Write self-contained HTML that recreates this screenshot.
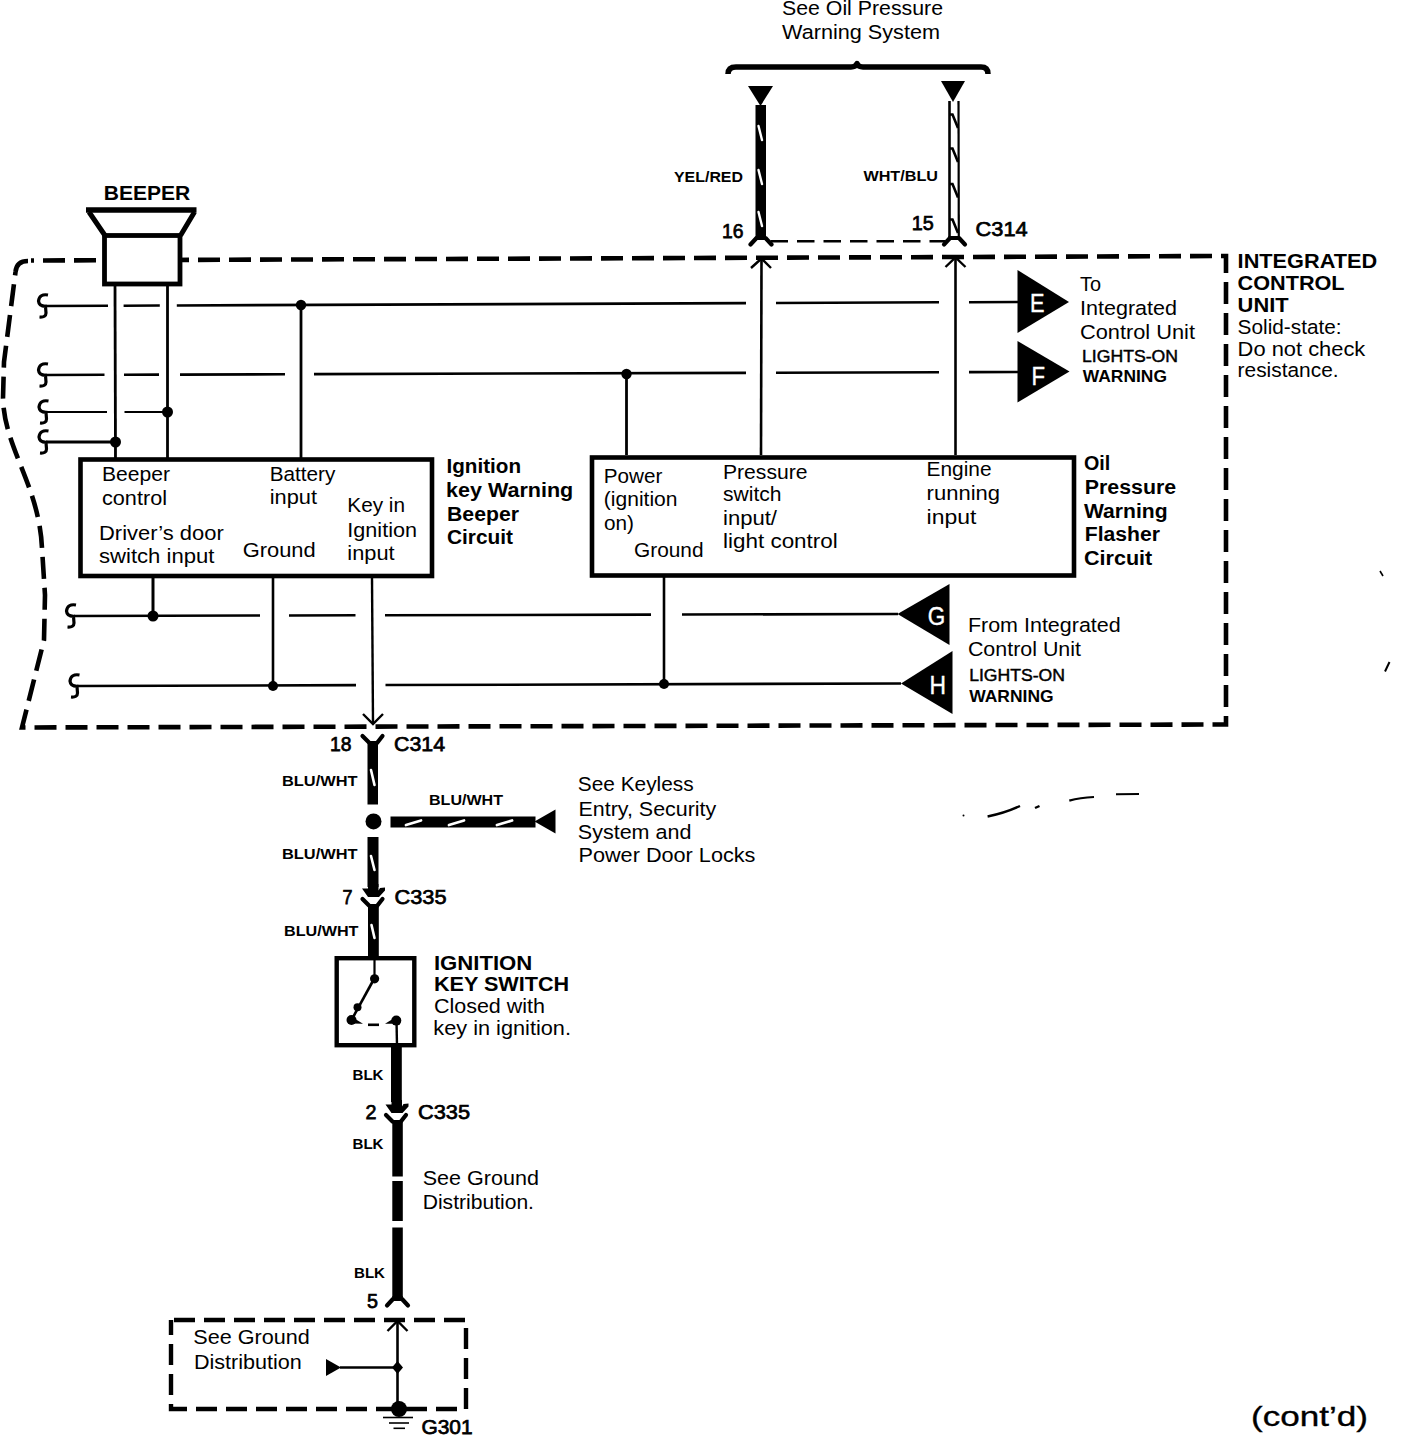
<!DOCTYPE html>
<html><head><meta charset="utf-8"><style>
html,body{margin:0;padding:0;background:#fff;}
svg{display:block;}
text{font-family:"Liberation Sans",sans-serif;fill:#000;}
.r{font-size:20.5px;}
.b{font-size:20px;font-weight:bold;}
.n{font-size:21px;stroke:#000;stroke-width:0.75px;}
.s{font-size:14px;font-weight:bold;}
.b2{font-size:21px;font-weight:bold;}
.s2{font-size:16.5px;stroke:#000;stroke-width:0.45px;}
.s3{font-size:16.5px;font-weight:bold;}
.w{fill:#fff;font-size:26px;stroke:#fff;stroke-width:0.4px;}
.c{font-size:28.5px;stroke:#000;stroke-width:0.35px;}
</style></head><body>
<svg width="1408" height="1436" viewBox="0 0 1408 1436">
<rect width="1408" height="1436" fill="#fff"/>
<g fill="none" stroke="#000" stroke-linecap="butt">
<path d="M728,74 Q728,67 736,67 L851,67 Q855.5,67 857,63.5 Q858.5,67 863,67 L981,67 Q988,67 988,74" stroke-width="5.5" fill="none" stroke-linejoin="round"/>
<path d="M748,86 L773,86 L760.5,106 Z" fill="#000" stroke="none"/>
<path d="M941,81 L965,81 L953,102 Z" fill="#000" stroke="none"/>
<rect x="755.5" y="105" width="10.5" height="134" fill="#000" stroke="none"/>
<line x1="758.5" y1="126" x2="762" y2="140" stroke="#fff" stroke-width="2.4" stroke-linecap="round"/>
<line x1="758.5" y1="170" x2="762" y2="184" stroke="#fff" stroke-width="2.4" stroke-linecap="round"/>
<line x1="758.5" y1="212" x2="762" y2="226" stroke="#fff" stroke-width="2.4" stroke-linecap="round"/>
<line x1="949.5" y1="101" x2="949.5" y2="238" stroke-width="2.6" />
<line x1="958.5" y1="101" x2="958.8" y2="238" stroke-width="2.2" />
<path d="M949.5,114.5 L952.5,114.5 L958,128" stroke-width="2.6" fill="none" />
<path d="M949.5,148.5 L952.5,148.5 L958,162" stroke-width="2.6" fill="none" />
<path d="M949.5,184.0 L952.5,184.0 L958,197.5" stroke-width="2.6" fill="none" />
<path d="M949.5,219.5 L952.5,219.5 L958,233" stroke-width="2.6" fill="none" />
<rect x="755.5" y="236" width="10.5" height="3" fill="#000" stroke="none"/>
<path d="M750.5,244.5 L756.5,238.0 L765.5,238.0 L771.5,244.5" stroke-width="4.2" fill="none" stroke-linejoin="round" stroke-linecap="round"/>
<rect x="948.5" y="236" width="11" height="3" fill="#000" stroke="none"/>
<path d="M944.0,244.5 L950.0,238.0 L959.0,238.0 L965.0,244.5" stroke-width="4.2" fill="none" stroke-linejoin="round" stroke-linecap="round"/>
<line x1="770.5" y1="241.3" x2="945" y2="241.3" stroke-width="2.4" stroke-dasharray="17.5 9"/>
<path d="M28,261 Q16.5,261 15.5,272 L4,362 L3,398 C4,448 39,485 42,548 L45,595 L44,640 L22,727.5 L1226,724.5 L1226,256 L31,260.5" stroke-width="4.6" fill="none" stroke-dasharray="22 9" stroke-dashoffset="0"/>
<rect x="104.5" y="235.5" width="75.5" height="48.5" fill="#fff" stroke-width="4.8"/>
<path d="M86,210 L196.5,210" stroke-width="5.5" fill="none" />
<path d="M89,212 L105,235.5 M194.5,212 L180.5,235.5" stroke-width="5" fill="none" />
<line x1="115" y1="286" x2="115.5" y2="458" stroke-width="2.8" />
<line x1="167.5" y1="286" x2="167.5" y2="458" stroke-width="2.8" />
<path d="M48.0,295 Q39.5,293.5 38.5,301 Q39.0,306.3 45.5,306.3 L46.0,313 Q46.0,317.5 39.5,317" stroke-width="3.2" fill="none" />
<line x1="45" y1="306.0" x2="108" y2="305.74" stroke-width="2.6" />
<line x1="123.6" y1="305.68" x2="159.8" y2="305.53" stroke-width="2.6" />
<line x1="176.8" y1="305.46" x2="746" y2="303.12" stroke-width="2.6" />
<line x1="776" y1="302.99" x2="939" y2="302.32" stroke-width="2.6" />
<line x1="969" y1="302.2" x2="1018" y2="302.0" stroke-width="2.6" />
<circle cx="301" cy="305" r="5.2" fill="#000" stroke="none"/>
<path d="M48.0,364 Q39.5,362.5 38.5,370 Q39.0,375.3 45.5,375.3 L46.0,382 Q46.0,386.5 39.5,386" stroke-width="3.2" fill="none" />
<line x1="45" y1="375.0" x2="104.5" y2="374.82" stroke-width="2.6" />
<line x1="124" y1="374.76" x2="159" y2="374.65" stroke-width="2.6" />
<line x1="180" y1="374.58" x2="285" y2="374.26" stroke-width="2.6" />
<line x1="314" y1="374.17" x2="746" y2="372.84" stroke-width="2.6" />
<line x1="776" y1="372.75" x2="939" y2="372.24" stroke-width="2.6" />
<line x1="969" y1="372.15" x2="1018" y2="372.0" stroke-width="2.6" />
<circle cx="626.5" cy="374" r="5.2" fill="#000" stroke="none"/>
<path d="M48.5,401 Q40,399.5 39,407 Q39.5,412.3 46,412.3 L46.5,419 Q46.5,423.5 40,423" stroke-width="3.2" fill="none" />
<line x1="46" y1="412.0" x2="107" y2="412.0" stroke-width="2.2" />
<line x1="124.5" y1="412.0" x2="167.5" y2="412.0" stroke-width="2.2" />
<circle cx="167.5" cy="412" r="5.5" fill="#000" stroke="none"/>
<path d="M48.5,431 Q40,429.5 39,437 Q39.5,442.3 46,442.3 L46.5,449 Q46.5,453.5 40,453" stroke-width="3.2" fill="none" />
<line x1="46" y1="442.0" x2="115" y2="442.0" stroke-width="3" />
<circle cx="115.5" cy="442" r="5.5" fill="#000" stroke="none"/>
<line x1="301" y1="305" x2="301" y2="458" stroke-width="2.8" />
<line x1="626.5" y1="374" x2="626.5" y2="455" stroke-width="2.8" />
<line x1="761" y1="455" x2="761.5" y2="259" stroke-width="2.6" />
<path d="M751,268 L761.5,258.5 L771,268" stroke-width="2.4" fill="none" />
<line x1="955.5" y1="455" x2="955.5" y2="258" stroke-width="2.6" />
<path d="M945.5,267 L955.5,257.5 L965.5,267" stroke-width="2.4" fill="none" />
<rect x="80.5" y="459.5" width="351.5" height="116.5" stroke-width="4.6"/>
<rect x="592" y="457.5" width="482" height="118" stroke-width="4.6"/>
<path d="M1017.5,270 L1069,302 L1017.5,333 Z" fill="#000" stroke="none"/>
<path d="M1017.5,341 L1069.5,371.5 L1017.5,402.5 Z" fill="#000" stroke="none"/>
<path d="M949.5,584 L897.5,614 L949.5,645 Z" fill="#000" stroke="none"/>
<path d="M952.5,651 L901,683.5 L952.5,714 Z" fill="#000" stroke="none"/>
<line x1="153" y1="578" x2="153" y2="616" stroke-width="3" />
<line x1="273" y1="578" x2="273" y2="686" stroke-width="2.6" />
<line x1="664" y1="577" x2="664" y2="684" stroke-width="2.6" />
<path d="M76.0,605 Q67.5,603.5 66.5,611 Q67.0,616.3 73.5,616.3 L74.0,623 Q74.0,627.5 67.5,627" stroke-width="3.2" fill="none" />
<line x1="74" y1="616.0" x2="260" y2="615.55" stroke-width="2.6" />
<line x1="289" y1="615.48" x2="355.5" y2="615.32" stroke-width="2.6" />
<line x1="385" y1="615.25" x2="651" y2="614.6" stroke-width="2.6" />
<line x1="682" y1="614.52" x2="898" y2="614.0" stroke-width="2.6" />
<circle cx="153" cy="616" r="5.5" fill="#000" stroke="none"/>
<path d="M79.5,675 Q71,673.5 70,681 Q70.5,686.3 77,686.3 L77.5,693 Q77.5,697.5 71,697" stroke-width="3.2" fill="none" />
<line x1="77" y1="686.0" x2="356" y2="685.15" stroke-width="2.6" />
<line x1="385.5" y1="685.06" x2="901" y2="683.5" stroke-width="2.6" />
<circle cx="273" cy="686" r="5" fill="#000" stroke="none"/>
<circle cx="664" cy="684" r="5" fill="#000" stroke="none"/>
<line x1="372" y1="578" x2="373" y2="723" stroke-width="2.4" />
<path d="M363,714 L373,724 L383,714" stroke-width="2.4" fill="none" />
<path d="M362.5,736 L369,742.5 M382.5,736 L377,743" stroke-width="4.2" fill="none" stroke-linecap="round"/>
<rect x="367.5" y="741" width="10.5" height="63.5" fill="#000" stroke="none"/>
<line x1="371" y1="770" x2="374.5" y2="785" stroke="#fff" stroke-width="2.6" stroke-linecap="round"/>
<circle cx="373.5" cy="821.4" r="8" fill="#000" stroke="none"/>
<rect x="390.5" y="816.5" width="145" height="11" fill="#000" stroke="none"/>
<line x1="406" y1="825" x2="421" y2="820.5" stroke="#fff" stroke-width="2.8" stroke-linecap="round"/>
<line x1="449" y1="825" x2="464" y2="820.5" stroke="#fff" stroke-width="2.8" stroke-linecap="round"/>
<line x1="497" y1="825" x2="512" y2="820.5" stroke="#fff" stroke-width="2.8" stroke-linecap="round"/>
<path d="M534.5,821.5 L555.5,809.5 L555.5,833.5 Z" fill="#000" stroke="none"/>
<rect x="367.5" y="837" width="11" height="50" fill="#000" stroke="none"/>
<line x1="371" y1="856" x2="374.5" y2="870" stroke="#fff" stroke-width="2.6" stroke-linecap="round"/>
<path d="M362,888.5 L368,888.5 L368,884 L378.5,884 L378.5,890.5 L380,888 L385,887.5 L385,890.5 L379,897 L368,897 Z" fill="#000" stroke="none"/>
<path d="M362.5,899 L369,905.5 M382.5,899 L377,906" stroke-width="4.2" fill="none" stroke-linecap="round"/>
<rect x="368" y="904" width="10.8" height="54" fill="#000" stroke="none"/>
<line x1="371.5" y1="925" x2="374.5" y2="938" stroke="#fff" stroke-width="2.6" stroke-linecap="round"/>
<rect x="336.7" y="958.2" width="77.6" height="87" stroke-width="4.4"/>
<line x1="374.5" y1="960" x2="374.5" y2="978" stroke-width="2.2" />
<circle cx="374.6" cy="978.8" r="4.6" fill="#000" stroke="none"/>
<line x1="374" y1="979" x2="351.5" y2="1020" stroke-width="2.6" />
<circle cx="357.5" cy="1007.3" r="4" fill="#000" stroke="none"/>
<circle cx="351.5" cy="1020" r="5" fill="#000" stroke="none"/>
<path d="M352,1017 L363,1023.8 L352,1023.5 Z" fill="#000" stroke="none"/>
<rect x="368" y="1023.5" width="11" height="2.6" fill="#000" stroke="none"/>
<path d="M385,1023.8 L396,1017 L396,1023.8 Z" fill="#000" stroke="none"/>
<circle cx="396.3" cy="1020.6" r="5" fill="#000" stroke="none"/>
<line x1="396.5" y1="1020" x2="397" y2="1046" stroke-width="2.4" />
<rect x="391" y="1046" width="10.8" height="56" fill="#000" stroke="none"/>
<path d="M385.5,1104.5 L391.5,1104.5 L391.5,1100 L402.0,1100 L402.0,1106.5 L403.5,1104 L408.5,1103.5 L408.5,1106.5 L402.5,1113 L391.5,1113 Z" fill="#000" stroke="none"/>
<path d="M386.0,1115 L392.5,1121.5 M406.0,1115 L400.5,1122" stroke-width="4.2" fill="none" stroke-linecap="round"/>
<rect x="392.3" y="1120" width="10.5" height="56.5" fill="#000" stroke="none"/>
<rect x="392.3" y="1181" width="10.5" height="40" fill="#000" stroke="none"/>
<rect x="392.3" y="1227.5" width="10.5" height="70" fill="#000" stroke="none"/>
<rect x="392.3" y="1296" width="10.5" height="3" fill="#000" stroke="none"/>
<path d="M387.0,1305.5 L393.0,1299.0 L402.0,1299.0 L408.0,1305.5" stroke-width="4.2" fill="none" stroke-linejoin="round" stroke-linecap="round"/>
<path d="M171,1320 L466,1320 L466,1409 L171,1409 Z" stroke-width="4.4" fill="none" stroke-dasharray="21 9" stroke-dashoffset="-3"/>
<line x1="397.5" y1="1321" x2="397.5" y2="1409" stroke-width="2.6" />
<path d="M387.5,1331 L397.5,1321 L407.5,1331" stroke-width="2.4" fill="none" />
<line x1="340" y1="1367.5" x2="397.5" y2="1367.5" stroke-width="2.6" />
<path d="M326,1359 L341,1367.5 L326,1376 Z" fill="#000" stroke="none"/>
<path d="M397.5,1361 L403,1367.5 L397.5,1374 L392,1367.5 Z" fill="#000" stroke="none"/>
<circle cx="399" cy="1409" r="8" fill="#000" stroke="none"/>
<line x1="383" y1="1417.5" x2="413" y2="1417.5" stroke-width="1.6" />
<line x1="389" y1="1423" x2="409" y2="1423" stroke-width="1.6" />
<line x1="393.5" y1="1428.3" x2="405" y2="1428.3" stroke-width="1.6" />
<path d="M987.6,816.5 Q1005,813 1020,806" stroke-width="2.4" fill="none" />
<path d="M1035,808 L1039.5,806" stroke-width="2.4" fill="none" />
<path d="M1069.3,800.6 Q1080,797.5 1094,797" stroke-width="2.2" fill="none" />
<path d="M1116,794.2 L1139,794" stroke-width="2" fill="none" />
<circle cx="963.5" cy="815.5" r="1" fill="#000" stroke="none"/>
<path d="M1380,571 L1383,576" stroke-width="1.6" fill="none" />
<path d="M1389.5,662 L1385,671.5" stroke-width="2" fill="none" />
</g>
<text class="r" x="782" y="15" textLength="161" lengthAdjust="spacingAndGlyphs">See Oil Pressure</text>
<text class="r" x="782" y="38.5" textLength="158" lengthAdjust="spacingAndGlyphs">Warning System</text>
<text class="s" x="674" y="181.5" textLength="69" lengthAdjust="spacingAndGlyphs">YEL/RED</text>
<text class="s" x="863.4" y="181" textLength="74.6" lengthAdjust="spacingAndGlyphs">WHT/BLU</text>
<text class="n" x="722" y="237.5" textLength="21.5" lengthAdjust="spacingAndGlyphs">16</text>
<text class="n" x="911.7" y="229.7" textLength="22" lengthAdjust="spacingAndGlyphs">15</text>
<text class="n" x="975.6" y="236" textLength="52" lengthAdjust="spacingAndGlyphs">C314</text>
<text class="b2" x="103.7" y="199.8" textLength="86.6" lengthAdjust="spacingAndGlyphs">BEEPER</text>
<text class="r" x="102" y="481.3" textLength="68" lengthAdjust="spacingAndGlyphs">Beeper</text>
<text class="r" x="102" y="505" textLength="65" lengthAdjust="spacingAndGlyphs">control</text>
<text class="r" x="99" y="539.6" textLength="124.7" lengthAdjust="spacingAndGlyphs">Driver’s door</text>
<text class="r" x="99" y="562.7" textLength="115.5" lengthAdjust="spacingAndGlyphs">switch input</text>
<text class="r" x="242.7" y="557" textLength="73" lengthAdjust="spacingAndGlyphs">Ground</text>
<text class="r" x="269.7" y="481.3" textLength="65.7" lengthAdjust="spacingAndGlyphs">Battery</text>
<text class="r" x="269.7" y="504.4" textLength="47.3" lengthAdjust="spacingAndGlyphs">input</text>
<text class="r" x="347.3" y="512.3" textLength="57.7" lengthAdjust="spacingAndGlyphs">Key in</text>
<text class="r" x="347.3" y="536.5" textLength="69.7" lengthAdjust="spacingAndGlyphs">Ignition</text>
<text class="r" x="347.3" y="559.6" textLength="47.3" lengthAdjust="spacingAndGlyphs">input</text>
<text class="b" x="446.5" y="472.9" textLength="74.5" lengthAdjust="spacingAndGlyphs">Ignition</text>
<text class="b" x="446" y="496.7" textLength="127.2" lengthAdjust="spacingAndGlyphs">key Warning</text>
<text class="b" x="447" y="520.6" textLength="72" lengthAdjust="spacingAndGlyphs">Beeper</text>
<text class="b" x="447" y="544" textLength="66" lengthAdjust="spacingAndGlyphs">Circuit</text>
<text class="r" x="603.8" y="482.5" textLength="58.5" lengthAdjust="spacingAndGlyphs">Power</text>
<text class="r" x="603.8" y="506" textLength="73.7" lengthAdjust="spacingAndGlyphs">(ignition</text>
<text class="r" x="604" y="530" textLength="30" lengthAdjust="spacingAndGlyphs">on)</text>
<text class="r" x="634" y="557" textLength="69.5" lengthAdjust="spacingAndGlyphs">Ground</text>
<text class="r" x="723" y="479" textLength="84.5" lengthAdjust="spacingAndGlyphs">Pressure</text>
<text class="r" x="723" y="501" textLength="58.5" lengthAdjust="spacingAndGlyphs">switch</text>
<text class="r" x="723" y="525" textLength="54" lengthAdjust="spacingAndGlyphs">input/</text>
<text class="r" x="723" y="548" textLength="114.8" lengthAdjust="spacingAndGlyphs">light control</text>
<text class="r" x="926.6" y="476" textLength="65" lengthAdjust="spacingAndGlyphs">Engine</text>
<text class="r" x="926.6" y="500" textLength="73.4" lengthAdjust="spacingAndGlyphs">running</text>
<text class="r" x="926.6" y="524" textLength="49.8" lengthAdjust="spacingAndGlyphs">input</text>
<text class="b" x="1084" y="470.3" textLength="26.3" lengthAdjust="spacingAndGlyphs">Oil</text>
<text class="b" x="1084.8" y="493.9" textLength="91.4" lengthAdjust="spacingAndGlyphs">Pressure</text>
<text class="b" x="1084" y="518.3" textLength="83.5" lengthAdjust="spacingAndGlyphs">Warning</text>
<text class="b" x="1084.8" y="541.4" textLength="75.2" lengthAdjust="spacingAndGlyphs">Flasher</text>
<text class="b" x="1084" y="564.5" textLength="68.3" lengthAdjust="spacingAndGlyphs">Circuit</text>
<text class="r" x="1080" y="291" textLength="21" lengthAdjust="spacingAndGlyphs">To</text>
<text class="r" x="1080" y="314.5" textLength="97" lengthAdjust="spacingAndGlyphs">Integrated</text>
<text class="r" x="1080" y="339" textLength="115" lengthAdjust="spacingAndGlyphs">Control Unit</text>
<text class="s2" x="1082" y="362.3" textLength="96" lengthAdjust="spacingAndGlyphs">LIGHTS-ON</text>
<text class="s3" x="1082.8" y="381.9" textLength="84.2" lengthAdjust="spacingAndGlyphs">WARNING</text>
<text class="b" x="1237.6" y="268.4" textLength="139.6" lengthAdjust="spacingAndGlyphs">INTEGRATED</text>
<text class="b" x="1237.6" y="290.4" textLength="107" lengthAdjust="spacingAndGlyphs">CONTROL</text>
<text class="b" x="1237.6" y="312.4" textLength="51" lengthAdjust="spacingAndGlyphs">UNIT</text>
<text class="r" x="1237.6" y="334.4" textLength="104" lengthAdjust="spacingAndGlyphs">Solid-state:</text>
<text class="r" x="1237.6" y="356.4" textLength="127.7" lengthAdjust="spacingAndGlyphs">Do not check</text>
<text class="r" x="1237.6" y="377.4" textLength="101" lengthAdjust="spacingAndGlyphs">resistance.</text>
<text class="r" x="967.9" y="632" textLength="152.8" lengthAdjust="spacingAndGlyphs">From Integrated</text>
<text class="r" x="967.9" y="655.6" textLength="113.1" lengthAdjust="spacingAndGlyphs">Control Unit</text>
<text class="s2" x="969.2" y="680.6" textLength="95.8" lengthAdjust="spacingAndGlyphs">LIGHTS-ON</text>
<text class="s3" x="969.2" y="701.7" textLength="84.4" lengthAdjust="spacingAndGlyphs">WARNING</text>
<text class="w" x="1030" y="311.8" textLength="14.5" lengthAdjust="spacingAndGlyphs">E</text>
<text class="w" x="1031.5" y="385" textLength="13.5" lengthAdjust="spacingAndGlyphs">F</text>
<text class="w" x="927.8" y="625" textLength="17.5" lengthAdjust="spacingAndGlyphs">G</text>
<text class="w" x="929.5" y="694" textLength="16.5" lengthAdjust="spacingAndGlyphs">H</text>
<text class="n" x="330" y="751" textLength="21.5" lengthAdjust="spacingAndGlyphs">18</text>
<text class="n" x="394" y="751" textLength="51" lengthAdjust="spacingAndGlyphs">C314</text>
<text class="s" x="282" y="786" textLength="75.5" lengthAdjust="spacingAndGlyphs">BLU/WHT</text>
<text class="s" x="429" y="805" textLength="74" lengthAdjust="spacingAndGlyphs">BLU/WHT</text>
<text class="s" x="282" y="859" textLength="75.5" lengthAdjust="spacingAndGlyphs">BLU/WHT</text>
<text class="n" x="342.5" y="904" textLength="10" lengthAdjust="spacingAndGlyphs">7</text>
<text class="n" x="394.5" y="904" textLength="52" lengthAdjust="spacingAndGlyphs">C335</text>
<text class="s" x="284" y="935.5" textLength="74.5" lengthAdjust="spacingAndGlyphs">BLU/WHT</text>
<text class="r" x="577.8" y="791.3" textLength="115.8" lengthAdjust="spacingAndGlyphs">See Keyless</text>
<text class="r" x="578.5" y="815.5" textLength="137.8" lengthAdjust="spacingAndGlyphs">Entry, Security</text>
<text class="r" x="577.8" y="838.9" textLength="113.6" lengthAdjust="spacingAndGlyphs">System and</text>
<text class="r" x="578.5" y="862.3" textLength="176.9" lengthAdjust="spacingAndGlyphs">Power Door Locks</text>
<text class="b" x="433.9" y="969.8" textLength="98.4" lengthAdjust="spacingAndGlyphs">IGNITION</text>
<text class="b" x="433.9" y="990.9" textLength="135.3" lengthAdjust="spacingAndGlyphs">KEY SWITCH</text>
<text class="r" x="433.9" y="1012.6" textLength="111.1" lengthAdjust="spacingAndGlyphs">Closed with</text>
<text class="r" x="433.3" y="1035" textLength="137.7" lengthAdjust="spacingAndGlyphs">key in ignition.</text>
<text class="s" x="352.5" y="1080" textLength="31" lengthAdjust="spacingAndGlyphs">BLK</text>
<text class="n" x="365.5" y="1119" textLength="11" lengthAdjust="spacingAndGlyphs">2</text>
<text class="n" x="418" y="1119" textLength="52" lengthAdjust="spacingAndGlyphs">C335</text>
<text class="s" x="352.5" y="1149" textLength="31" lengthAdjust="spacingAndGlyphs">BLK</text>
<text class="r" x="422.7" y="1184.8" textLength="116.2" lengthAdjust="spacingAndGlyphs">See Ground</text>
<text class="r" x="422.7" y="1208.6" textLength="111.3" lengthAdjust="spacingAndGlyphs">Distribution.</text>
<text class="s" x="354" y="1277.5" textLength="31" lengthAdjust="spacingAndGlyphs">BLK</text>
<text class="n" x="367" y="1307.5" textLength="11" lengthAdjust="spacingAndGlyphs">5</text>
<text class="r" x="193.3" y="1344.4" textLength="116.5" lengthAdjust="spacingAndGlyphs">See Ground</text>
<text class="r" x="193.9" y="1368.6" textLength="107.9" lengthAdjust="spacingAndGlyphs">Distribution</text>
<text class="n" x="421.5" y="1434" textLength="51.1" lengthAdjust="spacingAndGlyphs">G301</text>
<text class="c" x="1251" y="1426.4" textLength="117" lengthAdjust="spacingAndGlyphs">(cont’d)</text>
</svg>
</body></html>
